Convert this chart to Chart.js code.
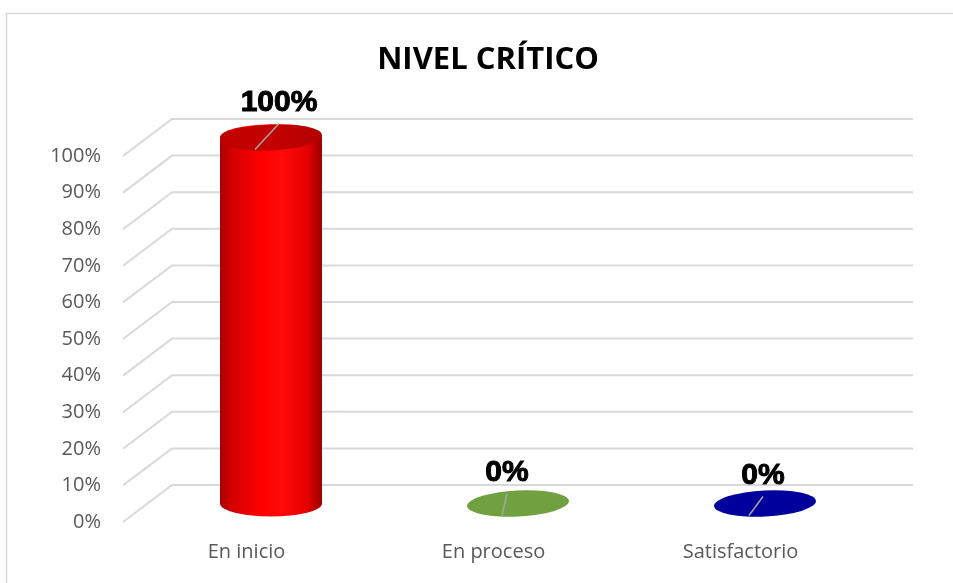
<!DOCTYPE html>
<html>
<head>
<meta charset="utf-8">
<script src="https://cdn.jsdelivr.net/npm/chart.js@4.4.1/dist/chart.umd.min.js"></script>
<style>
  html, body { margin: 0; padding: 0; background: #fff; }
  #wrap { width: 953px; height: 583px; }
</style>
</head>
<body>
<div id="wrap"><canvas id="nivel"></canvas></div>
<script>
// data
const categories = ['En inicio', 'En proceso', 'Satisfactorio'];
const values = [1, 0, 0];
const valueLabels = ['100%', '0%', '0%'];
const chartTitle = 'NIVEL CRÍTICO';

// look
const barColors = ['#ff0000', '#70a040', '#00009c'];
const labelShift = [[8, -35], [-11, -31], [-2, -28]];
const DX = 49, DY = -37;   // depth of the 3d floor / wall
const RY = 13;             // half height of cylinder ellipses
const gridColor = '#d9d9d9';

function bodyGradient(ctx, i, x0, x1) {
    let g = ctx.createLinearGradient(x0, 0, x1, 0);
    if (i == 0) {
        g.addColorStop(0, '#a80000');
        g.addColorStop(0.12, '#d40000');
        g.addColorStop(0.4, '#ff0000');
        g.addColorStop(0.6, '#ff0a0a');
        g.addColorStop(0.85, '#e80000');
        g.addColorStop(1, '#9a0000');
    } else {
        g.addColorStop(0, barColors[i]);
        g.addColorStop(1, barColors[i]);
    }
    return g;
}
function topGradient(ctx, i, x0, x1) {
    let g = ctx.createLinearGradient(x0, 0, x1, 0);
    if (i == 0) {
        g.addColorStop(0, '#c00000');
        g.addColorStop(0.5, '#c40000');
        g.addColorStop(1, '#b40000');
    } else {
        g.addColorStop(0, barColors[i]);
        g.addColorStop(1, barColors[i]);
    }
    return g;
}

const frame3d = {
    id: 'frame3d',
    beforeDraw(chart) {
        const ctx = chart.ctx;
        ctx.save();
        ctx.fillStyle = '#fff';
        ctx.fillRect(0, 0, chart.width, chart.height);
        ctx.strokeStyle = gridColor;
        ctx.lineWidth = 1.5;
        ctx.strokeRect(6.5, 13.5, chart.width + 20, chart.height + 20);
        ctx.restore();
    },
    beforeDatasetsDraw(chart) {
        const ctx = chart.ctx, y = chart.scales.y, a = chart.chartArea;
        ctx.save();
        ctx.strokeStyle = gridColor;
        ctx.lineWidth = 2;
        y.ticks.forEach(t => {
            let py = y.getPixelForValue(t.value);
            ctx.beginPath();
            ctx.moveTo(a.left, py);
            ctx.lineTo(a.left + DX, py + DY);
            ctx.lineTo(a.right + DX, py + DY);
            ctx.stroke();
        });
        ctx.restore();
    },
    afterDatasetsDraw(chart) {
        const ctx = chart.ctx;
        const meta = chart.getDatasetMeta(0);
        ctx.save();
        meta.data.forEach((el, i) => {
            const p = el.getProps(['x', 'y', 'base', 'width'], true);
            const cx = p.x + DX / 2, rx = p.width / 2;
            const yTop = p.y + DY / 2, yBot = p.base + DY / 2;
            if (yBot - yTop > 1) {
                ctx.beginPath();
                ctx.moveTo(cx - rx, yTop);
                ctx.lineTo(cx - rx, yBot);
                ctx.ellipse(cx, yBot, rx, RY, 0, Math.PI, 0, true);
                ctx.lineTo(cx + rx, yTop);
                ctx.ellipse(cx, yTop, rx, RY, 0, 0, Math.PI, true);
                ctx.closePath();
                ctx.fillStyle = bodyGradient(ctx, i, cx - rx, cx + rx);
                ctx.fill();
            }
            ctx.beginPath();
            ctx.ellipse(cx, yTop, rx, RY, -0.05, 0, Math.PI * 2);
            ctx.fillStyle = topGradient(ctx, i, cx - rx, cx + rx);
            ctx.fill();

            // value label + leader line
            const lx = cx + labelShift[i][0], ly = yTop + labelShift[i][1];
            ctx.strokeStyle = '#a6a6a6';
            ctx.lineWidth = 1.5;
            ctx.beginPath();
            ctx.moveTo(lx, ly + 21);
            ctx.lineTo(cx - 16, yTop + 12);
            ctx.stroke();
            ctx.font = 'bold 30px "Liberation Sans", Arial, sans-serif';
            ctx.fillStyle = '#000';
            ctx.strokeStyle = '#000';
            ctx.lineWidth = 1;
            ctx.textAlign = 'center';
            ctx.textBaseline = 'middle';
            ctx.strokeText(valueLabels[i], lx, ly);
            ctx.fillText(valueLabels[i], lx, ly);
        });
        // title
        ctx.font = 'bold 31px "Open Sans", sans-serif';
        ctx.fillStyle = '#000';
        ctx.textAlign = 'center';
        ctx.textBaseline = 'alphabetic';
        ctx.fillText(chartTitle, 488, 69);
        ctx.restore();
    }
};

let canvas = document.querySelector('#nivel');
new Chart(canvas, {
    type: 'bar',
    data: {
        labels: categories,
        datasets: [{
            data: values,
            backgroundColor: 'rgba(0,0,0,0)',
            barPercentage: 0.413,
            categoryPercentage: 1
        }]
    },
    options: {
        responsive: true,
        maintainAspectRatio: false,
        animation: false,
        layout: {
            padding: { top: 156, right: 89, left: 0, bottom: 0 }
        },
        plugins: {
            legend: { display: false },
            title: { display: false },
            tooltip: { enabled: false }
        },
        scales: {
            x: {
                grid: { display: false, drawTicks: false },
                border: { display: false },
                ticks: {
                    padding: 18,
                    color: '#595959',
                    font: { family: '"Open Sans"', size: 20 }
                },
                afterFit(s) { s.height = 61; }
            },
            y: {
                min: 0,
                max: 1,
                grid: { display: false, drawTicks: false },
                border: { display: false },
                ticks: {
                    stepSize: 0.1,
                    padding: 22,
                    color: '#595959',
                    font: { family: '"Open Sans"', size: 20 },
                    callback: v => Math.round(v * 100) + '%'
                },
                afterFit(s) { s.width = 123; }
            }
        }
    },
    plugins: [frame3d]
});
</script>
</body>
</html>
